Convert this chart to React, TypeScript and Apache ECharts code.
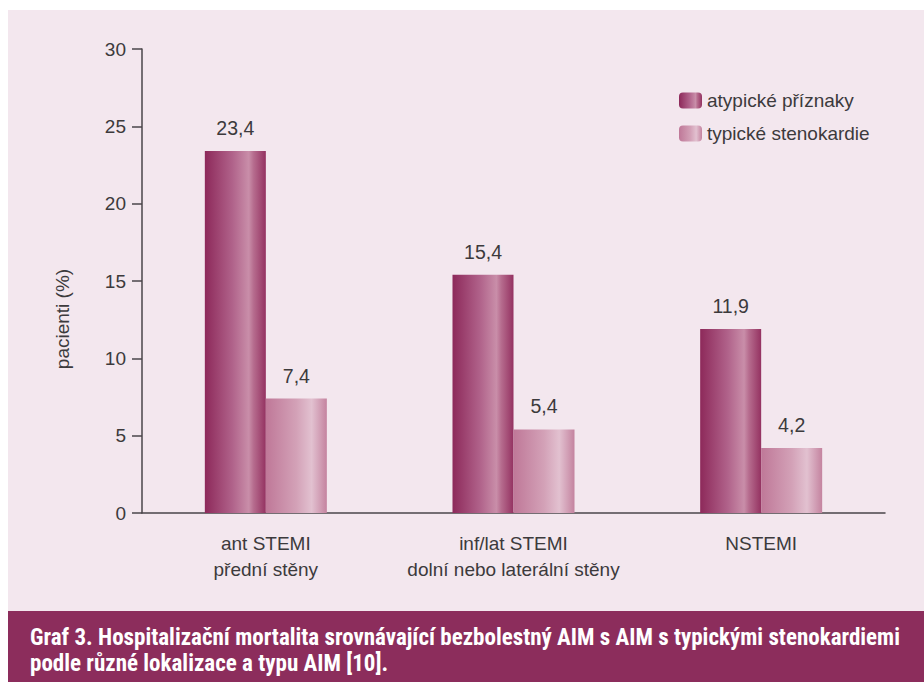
import React, { useEffect, useRef } from "react";
import * as echarts from "echarts";

const categories = ["ant STEMI\npřední stěny", "inf/lat STEMI\ndolní nebo laterální stěny", "NSTEMI"];
const seriesNames = ["atypické příznaky", "typické stenokardie"];
const atypicalValues = [23.4, 15.4, 11.9];
const typicalValues = [7.4, 5.4, 4.2];
const yTicks = { min: 0, max: 30, interval: 5 };
const yAxisName = "pacienti (%)";
const captionLines = [
  "Graf 3. Hospitalizační mortalita srovnávající bezbolestný AIM s AIM s typickými stenokardiemi",
  "podle různé lokalizace a typu AIM [10].",
];

const FONT = "'Liberation Sans', Arial, sans-serif";
const CAP_FONT = "'Liberation Sans Narrow', 'Roboto Condensed', 'Liberation Sans', sans-serif";
const TEXT = "#3c3a3c";
const FS = 19;

const grad = (stops: [number, string][]) =>
  new echarts.graphic.LinearGradient(0, 0, 1, 0, stops.map(([offset, color]) => ({ offset, color })));

export default function App() {
  const ref = useRef<HTMLDivElement>(null);
  useEffect(() => {
    if (!ref.current) return;
    const chart = echarts.init(ref.current, null, { renderer: "svg" });
    const fmt = (p: any) => String(p.value).replace(".", ",");
    const label = {
      show: true,
      position: "top",
      distance: 13,
      fontSize: 19.5,
      color: TEXT,
      fontFamily: FONT,
      formatter: fmt,
    };
    chart.setOption({
      animation: false,
      backgroundColor: "#f3e7ee",
      textStyle: { fontFamily: FONT },
      grid: { left: 134, right: 39, top: 39, bottom: 169, containLabel: false },
      legend: {
        left: 666,
        top: 76,
        orient: "vertical",
        itemWidth: 23,
        itemHeight: 16,
        itemGap: 14,
        textStyle: { fontSize: FS, color: TEXT, fontFamily: FONT },
        data: seriesNames,
      },
      xAxis: {
        type: "category",
        data: categories,
        axisLine: { lineStyle: { color: "#4a464a", width: 1.5 } },
        axisTick: { length: 10, lineStyle: { color: "#4a464a", width: 1.5 } },
        axisLabel: {
          interval: 0,
          hideOverlap: false,
          fontSize: FS,
          color: TEXT,
          margin: 17,
          lineHeight: 26,
          fontFamily: FONT,
        },
      },
      yAxis: {
        type: "value",
        min: yTicks.min,
        max: yTicks.max,
        interval: yTicks.interval,
        splitLine: { show: false },
        axisLine: { show: true, lineStyle: { color: "#4a464a", width: 1.5 } },
        axisTick: { show: true, length: 10, lineStyle: { color: "#4a464a", width: 1.5 } },
        axisLabel: { fontSize: FS, color: TEXT, margin: 16, fontFamily: FONT },
      },
      graphic: [
        {
          type: "text",
          x: 54,
          y: 309,
          rotation: Math.PI / 2,
          style: {
            text: yAxisName,
            fontSize: FS,
            fill: TEXT,
            fontFamily: FONT,
            textAlign: "center",
            textVerticalAlign: "middle",
          },
        },
        {
          type: "rect",
          shape: { x: 0, y: 601, width: 916, height: 71 },
          style: { fill: "#8c2d5c" },
        },
        {
          type: "text",
          x: 22,
          y: 627,
          style: {
            text: captionLines[0],
            fontSize: 23,
            fontWeight: "bold",
            fill: "#ffffff",
            fontFamily: CAP_FONT,
            textVerticalAlign: "middle",
          },
        },
        {
          type: "text",
          x: 22,
          y: 653,
          style: {
            text: captionLines[1],
            fontSize: 23,
            fontWeight: "bold",
            fill: "#ffffff",
            fontFamily: CAP_FONT,
            textVerticalAlign: "middle",
          },
        },
      ],
      series: [
        {
          name: seriesNames[0],
          type: "bar",
          data: atypicalValues,
          barWidth: 61,
          barGap: "0%",
          itemStyle: {
            color: grad([
              [0, "#8d295a"],
              [0.45, "#b0628a"],
              [0.72, "#c98ea9"],
              [0.8, "#b66c8e"],
              [1, "#943261"],
            ]),
          },
          label,
        },
        {
          name: seriesNames[1],
          type: "bar",
          data: typicalValues,
          barWidth: 61,
          itemStyle: {
            color: grad([
              [0, "#bf7898"],
              [0.5, "#d3a1b7"],
              [0.75, "#e2c1d0"],
              [0.86, "#d5a6bb"],
              [1, "#c4839f"],
            ]),
          },
          label,
        },
      ],
    });
    return () => chart.dispose();
  }, []);
  return (
    <div
      ref={ref}
      style={{ position: "absolute", left: 8, top: 10, width: 916, height: 672 }}
    />
  );
}
